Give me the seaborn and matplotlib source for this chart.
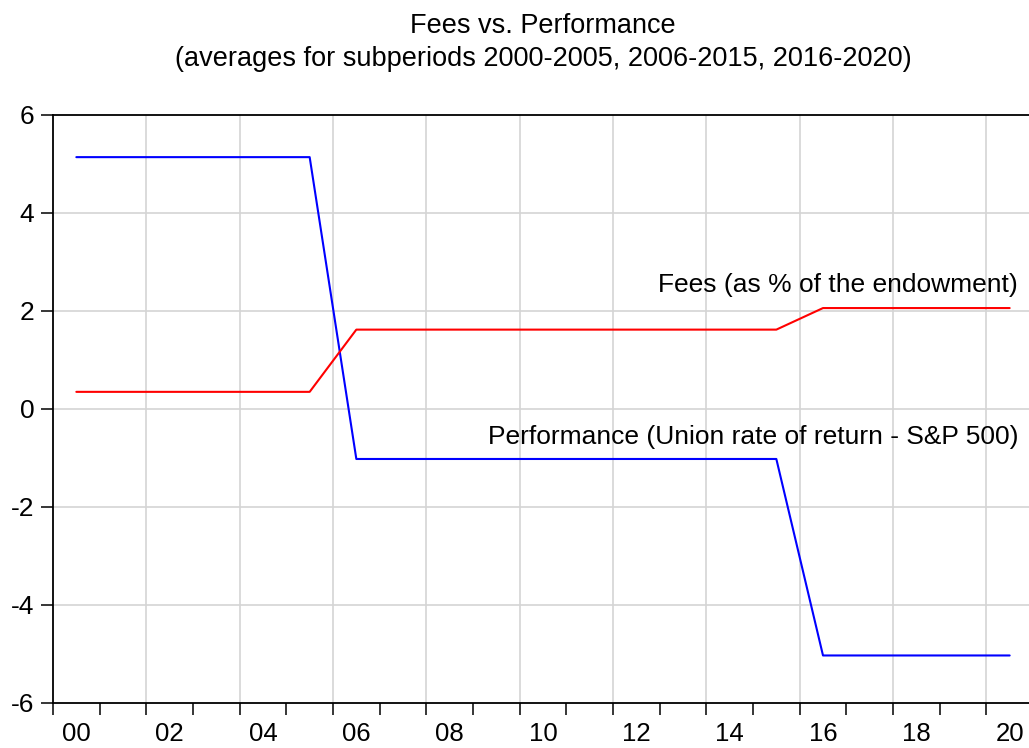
import pandas as pd
import matplotlib.pyplot as plt
import seaborn as sns

# Data: annual values, averages for the subperiods 2000-2005, 2006-2015, 2016-2020
years = list(range(2000, 2021))
performance = [5.14, 5.14, 5.14, 5.14, 5.14, 5.14,
               -1.02, -1.02, -1.02, -1.02, -1.02, -1.02, -1.02, -1.02, -1.02, -1.02,
               -5.03, -5.03, -5.03, -5.03, -5.03]
fees = [0.35, 0.35, 0.35, 0.35, 0.35, 0.35,
        1.62, 1.62, 1.62, 1.62, 1.62, 1.62, 1.62, 1.62, 1.62, 1.62,
        2.06, 2.06, 2.06, 2.06, 2.06]
year_labels = ["00", "02", "04", "06", "08", "10", "12", "14", "16", "18", "20"]
y_ticks = [-6, -4, -2, 0, 2, 4, 6]

sns.set_style("white")
plt.rcParams['font.family'] = ['Liberation Sans', 'DejaVu Sans']
plt.rcParams['text.color'] = 'black'
plt.rcParams['xtick.color'] = 'black'
plt.rcParams['ytick.color'] = 'black'

df = pd.DataFrame({"year": years * 2,
                   "value": performance + fees,
                   "series": ["Performance"] * len(years) + ["Fees"] * len(years)})

fig = plt.figure(figsize=(10.29, 7.48), dpi=100)
ax = fig.add_axes([53 / 1029, 1 - 703 / 748, (1033 - 53) / 1029, (703 - 115) / 748])

sns.lineplot(data=df, x="year", y="value", hue="series",
             palette={"Performance": "#0000ff", "Fees": "#ff0000"},
             linewidth=1.5, legend=False, ax=ax, zorder=3)

ax.set_xlim(1999.5, 2020.5)
ax.set_ylim(-6, 6)
ax.set_xlabel("")
ax.set_ylabel("")

# grid: horizontal at y ticks, vertical at every other year boundary
ax.set_yticks(y_ticks)
ax.set_yticklabels([str(v) for v in y_ticks])
for y in y_ticks[1:-1]:
    ax.axhline(y, color="#d4d4d4", linewidth=1.2, zorder=1)
for x in [y + 1.5 for y in years[:-1:2]]:
    ax.axvline(x, color="#d4d4d4", linewidth=1.2, zorder=1)

# tick marks at year boundaries, labels at even years
ax.set_xticks([y - 0.5 for y in years] + [2020.5], minor=True)
ax.set_xticks(years[::2])
ax.set_xticklabels(year_labels)
ax.tick_params(axis="x", which="minor", direction="out", length=8.5, width=1.1, bottom=True)
ax.tick_params(axis="x", which="major", length=0, pad=14, labelsize=18.5)
ax.tick_params(axis="y", which="major", direction="out", length=8.5, width=1.1,
               left=True, pad=5, labelsize=19)

for s in ["left", "bottom", "top"]:
    ax.spines[s].set_color("black")
    ax.spines[s].set_linewidth(1.3)
ax.spines["right"].set_visible(False)

ax.text(2020.17, 2.39, "Fees (as % of the endowment)", ha="right", va="baseline", fontsize=19)
ax.text(2020.2, -0.71, "Performance (Union rate of return - S&P 500)", ha="right", va="baseline", fontsize=19)

fig.text(543 / 1029, 1 - 33 / 748, "Fees vs. Performance", ha="center", va="baseline", fontsize=19.5)
fig.text(543 / 1029, 1 - 66 / 748, "(averages for subperiods 2000-2005, 2006-2015, 2016-2020)",
         ha="center", va="baseline", fontsize=19.5)

fig.savefig("out.png", dpi=100)
